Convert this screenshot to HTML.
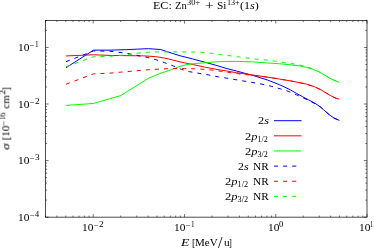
<!DOCTYPE html>
<html><head><meta charset="utf-8"><title>plot</title>
<style>
html,body{margin:0;padding:0;background:#fff;}
html{width:374px;height:249px;overflow:hidden;}
body{width:374px;height:249px;position:relative;overflow:hidden;font-family:"Liberation Serif",serif;color:#000;}
.t{position:absolute;line-height:40px;height:40px;white-space:nowrap;transform-origin:0 0;}
.sp{font-size:7.3px;position:relative;top:-4.0px;margin-left:0.4px}
.sb{font-size:7.3px;position:relative;top:1.5px;}
.tx{position:absolute;left:0;top:0;width:374px;height:249px;overflow:hidden;will-change:transform;}
.rot{will-change:transform;position:absolute;left:0;top:0;width:0;height:0;transform:translate(9.3px,149.7px) rotate(-90deg);transform-origin:0 0;}
.t{font-size:11.2px}
</style></head><body>
<svg width="374" height="249" viewBox="0 0 374 249" style="position:absolute;left:0;top:0">
<path d="M45.50,217.15v-1.6M45.50,20.45v1.6M56.90,217.15v-1.6M56.90,20.45v1.6M65.75,217.15v-1.6M65.75,20.45v1.6M72.97,217.15v-1.6M72.97,20.45v1.6M79.08,217.15v-1.6M79.08,20.45v1.6M84.37,217.15v-1.6M84.37,20.45v1.6M89.04,217.15v-1.6M89.04,20.45v1.6M93.22,217.15v-3.1M93.22,20.45v3.1M120.69,217.15v-1.6M120.69,20.45v1.6M136.76,217.15v-1.6M136.76,20.45v1.6M148.16,217.15v-1.6M148.16,20.45v1.6M157.01,217.15v-1.6M157.01,20.45v1.6M164.23,217.15v-1.6M164.23,20.45v1.6M170.34,217.15v-1.6M170.34,20.45v1.6M175.63,217.15v-1.6M175.63,20.45v1.6M180.30,217.15v-1.6M180.30,20.45v1.6M184.48,217.15v-3.1M184.48,20.45v3.1M211.95,217.15v-1.6M211.95,20.45v1.6M228.02,217.15v-1.6M228.02,20.45v1.6M239.42,217.15v-1.6M239.42,20.45v1.6M248.27,217.15v-1.6M248.27,20.45v1.6M255.49,217.15v-1.6M255.49,20.45v1.6M261.60,217.15v-1.6M261.60,20.45v1.6M266.90,217.15v-1.6M266.90,20.45v1.6M271.56,217.15v-1.6M271.56,20.45v1.6M275.74,217.15v-3.1M275.74,20.45v3.1M303.21,217.15v-1.6M303.21,20.45v1.6M319.28,217.15v-1.6M319.28,20.45v1.6M330.68,217.15v-1.6M330.68,20.45v1.6M339.53,217.15v-1.6M339.53,20.45v1.6M346.75,217.15v-1.6M346.75,20.45v1.6M352.86,217.15v-1.6M352.86,20.45v1.6M358.16,217.15v-1.6M358.16,20.45v1.6M362.82,217.15v-1.6M362.82,20.45v1.6M367.00,217.15v-3.1M367.00,20.45v3.1M45.50,217.15h3.1M367.00,217.15h-3.1M45.50,200.12h1.6M367.00,200.12h-1.6M45.50,190.16h1.6M367.00,190.16h-1.6M45.50,183.09h1.6M367.00,183.09h-1.6M45.50,177.61h1.6M367.00,177.61h-1.6M45.50,173.13h1.6M367.00,173.13h-1.6M45.50,169.34h1.6M367.00,169.34h-1.6M45.50,166.06h1.6M367.00,166.06h-1.6M45.50,163.17h1.6M367.00,163.17h-1.6M45.50,160.58h3.1M367.00,160.58h-3.1M45.50,143.55h1.6M367.00,143.55h-1.6M45.50,133.59h1.6M367.00,133.59h-1.6M45.50,126.52h1.6M367.00,126.52h-1.6M45.50,121.04h1.6M367.00,121.04h-1.6M45.50,116.56h1.6M367.00,116.56h-1.6M45.50,112.77h1.6M367.00,112.77h-1.6M45.50,109.49h1.6M367.00,109.49h-1.6M45.50,106.60h1.6M367.00,106.60h-1.6M45.50,104.01h3.1M367.00,104.01h-3.1M45.50,86.98h1.6M367.00,86.98h-1.6M45.50,77.02h1.6M367.00,77.02h-1.6M45.50,69.95h1.6M367.00,69.95h-1.6M45.50,64.47h1.6M367.00,64.47h-1.6M45.50,59.99h1.6M367.00,59.99h-1.6M45.50,56.20h1.6M367.00,56.20h-1.6M45.50,52.92h1.6M367.00,52.92h-1.6M45.50,50.03h1.6M367.00,50.03h-1.6M45.50,47.44h3.1M367.00,47.44h-3.1M45.50,30.41h1.6M367.00,30.41h-1.6M45.50,20.45h1.6M367.00,20.45h-1.6" stroke="#000" stroke-width="0.55" fill="none"/>
<g transform="translate(0.05,0.25)">
<polyline points="65.9,67.5 93.5,49.9 110.0,49.9 126.6,49.4 137.3,48.9 148.4,48.4 160.7,49.3 166.8,51.3 172.0,53.0 180.0,55.5 192.3,58.6 204.6,61.9 216.9,65.3 226.0,68.1 236.6,70.8 253.2,75.3 267.3,79.7 279.6,84.5 290.0,89.4 296.2,93.0 302.3,96.3 308.5,99.6 314.6,102.8 320.8,107.0 323.5,109.5 329.6,114.8 333.9,117.8 339.4,120.2" stroke="#00f" stroke-width="1.0" fill="none" stroke-linejoin="round"/>
<polyline points="65.9,55.7 93.5,54.5 110.0,55.2 126.6,55.4 143.5,55.6 155.8,56.4 164.4,57.8 172.0,59.6 180.0,61.6 192.3,64.2 204.6,66.8 216.9,69.2 226.0,70.6 236.6,72.5 253.2,74.8 267.3,76.9 279.6,78.8 291.9,80.9 306.6,83.9 314.6,86.5 320.8,89.5 326.9,93.2 333.0,96.7 336.0,98.0 339.4,98.9" stroke="#f00" stroke-width="1.0" fill="none" stroke-linejoin="round"/>
<polyline points="65.9,105.2 93.5,103.2 120.8,95.3 134.9,86.5 148.1,78.2 159.8,73.3 165.0,71.6 172.0,69.2 180.0,66.1 186.2,64.5 192.3,63.6 204.6,62.5 216.9,61.5 227.0,61.2 236.6,61.1 253.2,61.7 267.3,62.7 279.6,63.5 291.9,64.7 300.0,65.7 306.2,67.0 312.3,68.9 318.5,71.3 324.6,74.8 330.8,78.5 336.9,81.2 339.4,82.1" stroke="#0f0" stroke-width="1.0" fill="none" stroke-linejoin="round"/>
<polyline points="65.9,61.5 93.5,50.7 110.0,51.0 126.6,53.0 137.9,55.4 147.1,57.1 155.8,59.4 164.4,62.4 173.3,65.7 181.4,69.1 189.8,71.5 199.0,73.1 208.1,74.6 218.1,76.6 226.6,77.9 243.2,80.7 262.0,83.9 271.2,86.0 280.2,88.6 288.8,91.3 296.5,94.6 305.0,98.5 313.4,102.7 320.8,107.0 323.5,109.5 329.6,114.8 333.9,117.8 339.4,120.2" stroke="#00f" stroke-width="1.0" fill="none" stroke-linejoin="round" stroke-dasharray="4.1 5"/>
<polyline points="65.9,84.0 93.5,73.6 110.0,72.9 120.8,71.9 134.9,70.7 148.0,69.5 160.0,68.8 172.0,68.3 184.3,68.3 193.5,68.5 202.8,69.0 212.0,69.8 221.2,71.1 236.6,73.3 245.0,74.3 252.0,75.1 260.0,76.0 267.3,76.9 279.6,78.8 291.9,80.9 306.6,83.9 314.6,86.5 320.8,89.5 326.9,93.2 333.0,96.7 336.0,98.0 339.4,98.9" stroke="#f00" stroke-width="1.0" fill="none" stroke-linejoin="round" stroke-dasharray="4.1 5"/>
<polyline points="65.9,66.5 93.5,56.5 110.0,56.0 126.6,54.5 138.5,52.9 148.4,52.0 157.0,51.7 172.0,51.6 184.3,51.6 193.5,51.7 202.8,52.1 212.0,53.1 221.4,54.4 238.2,56.6 256.5,58.9 266.1,59.7 275.3,60.9 284.0,62.2 293.1,63.6 302.5,65.4 310.8,67.8 318.5,71.3 324.6,74.8 330.8,78.5 336.9,81.2 339.4,82.1" stroke="#0f0" stroke-width="1.0" fill="none" stroke-linejoin="round" stroke-dasharray="4.1 5"/>
</g>
<path d="M274,120.70H301.6" stroke="#00f" stroke-width="1.0" fill="none"/>
<path d="M274,135.84H301.6" stroke="#f00" stroke-width="1.0" fill="none"/>
<path d="M274,150.98H301.6" stroke="#0f0" stroke-width="1.0" fill="none"/>
<path d="M274,166.12H300" stroke="#00f" stroke-width="1.0" fill="none" stroke-dasharray="4.1 5"/>
<path d="M274,181.26H300" stroke="#f00" stroke-width="1.0" fill="none" stroke-dasharray="4.1 5"/>
<path d="M274,196.40H300" stroke="#0f0" stroke-width="1.0" fill="none" stroke-dasharray="4.1 5"/>
<rect x="45.5" y="20.45" width="321.50" height="196.70" fill="none" stroke="#000" stroke-width="0.7"/>
</svg>
<div class="tx">
<div class="t" style="left:153.43px;top:-15px;transform:scaleX(1.077)">EC:</div>
<div class="t" style="left:175.32px;top:-15px;transform:scaleX(0.953)">Zn</div>
<div class="t" style="left:187.07px;top:-17px;font-size:7.3px;transform:scaleX(1.153)">30+</div>
<div class="t" style="left:205.23px;top:-14px;font-size:12.5px;transform:scaleX(1.226)">+</div>
<div class="t" style="left:216.74px;top:-15px;transform:scaleX(1.015)">Si</div>
<div class="t" style="left:226.51px;top:-17px;font-size:7.3px;transform:scaleX(1.105)">13+</div>
<div class="t" style="left:240.26px;top:-15px;transform:scaleX(1.081)">(1<i>s</i>)</div>
<div class="t" style="left:82.15px;top:207px;transform:scaleX(1.021)">10</div>
<div class="t" style="left:94.21px;top:205px;font-size:7.3px;transform:scaleX(1.110)">–</div>
<div class="t" style="left:98.75px;top:205px;font-size:7.3px;transform:scaleX(1.267)">2</div>
<div class="t" style="left:174.11px;top:207px;transform:scaleX(1.021)">10</div>
<div class="t" style="left:186.17px;top:205px;font-size:7.3px;transform:scaleX(1.110)">–</div>
<div class="t" style="left:190.81px;top:205px;font-size:7.3px;transform:scaleX(0.990)">1</div>
<div class="t" style="left:267.78px;top:207px;transform:scaleX(1.021)">10</div>
<div class="t" style="left:279.00px;top:205px;font-size:7.3px;transform:scaleX(1.184)">0</div>
<div class="t" style="left:358.88px;top:207px;transform:scaleX(1.021)">10</div>
<div class="t" style="left:370.35px;top:205px;font-size:7.3px;transform:scaleX(0.876)">1</div>
<div class="t" style="left:18.23px;top:197px;transform:scaleX(1.021)">10</div>
<div class="t" style="left:30.29px;top:195px;font-size:7.3px;transform:scaleX(1.110)">–</div>
<div class="t" style="left:35.01px;top:195px;font-size:7.3px;transform:scaleX(1.126)">4</div>
<div class="t" style="left:18.23px;top:140px;transform:scaleX(1.021)">10</div>
<div class="t" style="left:30.29px;top:138px;font-size:7.3px;transform:scaleX(1.110)">–</div>
<div class="t" style="left:34.67px;top:138px;font-size:7.3px;transform:scaleX(1.267)">3</div>
<div class="t" style="left:18.23px;top:84px;transform:scaleX(1.021)">10</div>
<div class="t" style="left:30.29px;top:82px;font-size:7.3px;transform:scaleX(1.110)">–</div>
<div class="t" style="left:34.83px;top:82px;font-size:7.3px;transform:scaleX(1.267)">2</div>
<div class="t" style="left:18.23px;top:27px;transform:scaleX(1.021)">10</div>
<div class="t" style="left:30.29px;top:25px;font-size:7.3px;transform:scaleX(1.110)">–</div>
<div class="t" style="left:34.93px;top:25px;font-size:7.3px;transform:scaleX(0.990)">1</div>
<div class="t" style="left:181.45px;top:222px;transform:scaleX(1.230)"><i>E</i></div>
<div class="t" style="left:191.73px;top:222px;transform:scaleX(0.880)">[</div>
<div class="t" style="left:195.05px;top:222px;transform:scaleX(0.981)">MeV</div>
<div class="t" style="left:218.20px;top:223px;font-size:16px;transform:scaleX(1.006)">/</div>
<div class="t" style="left:223.67px;top:222px;transform:scaleX(1.010)">u</div>
<div class="t" style="left:229.02px;top:222px;transform:scaleX(0.760)">]</div>
<div class="t" style="left:257.55px;top:100px;transform:scaleX(1.096)">2<i>s</i></div>
<div class="t" style="left:245.04px;top:116px;transform:scaleX(1.111)">2<i>p</i><span class="sb">1/2</span></div>
<div class="t" style="left:245.04px;top:131px;transform:scaleX(1.111)">2<i>p</i><span class="sb">3/2</span></div>
<div class="t" style="left:238.17px;top:146px;transform:scaleX(1.052)">2<i>s</i></div>
<div class="t" style="left:252.65px;top:146px;transform:scaleX(1.010)">NR</div>
<div class="t" style="left:225.34px;top:161px;transform:scaleX(1.126)">2<i>p</i><span class="sb">1/2</span></div>
<div class="t" style="left:252.65px;top:161px;transform:scaleX(1.010)">NR</div>
<div class="t" style="left:225.34px;top:176px;transform:scaleX(1.126)">2<i>p</i><span class="sb">3/2</span></div>
<div class="t" style="left:252.65px;top:176px;transform:scaleX(1.010)">NR</div>
</div>
<div class="rot">
<div class="t" style="left:-0.43px;top:-24px;transform:scaleX(1.145)"><i>σ</i></div>
<div class="t" style="left:9.53px;top:-24px;transform:scaleX(1.000)">[</div>
<div class="t" style="left:12.69px;top:-24px;transform:scaleX(1.005)">10</div>
<div class="t" style="left:24.45px;top:-26px;font-size:7.3px;transform:scaleX(1.213)">–</div>
<div class="t" style="left:29.73px;top:-26px;font-size:7.3px;transform:scaleX(0.914)">1</div>
<div class="t" style="left:33.41px;top:-26px;font-size:7.3px;transform:scaleX(1.169)">6</div>
<div class="t" style="left:41.23px;top:-24px;transform:scaleX(0.983)">cm</div>
<div class="t" style="left:55.07px;top:-26px;font-size:7.3px;transform:scaleX(1.300)">2</div>
<div class="t" style="left:59.26px;top:-24px;transform:scaleX(0.920)">]</div>
</div>
</body></html>
